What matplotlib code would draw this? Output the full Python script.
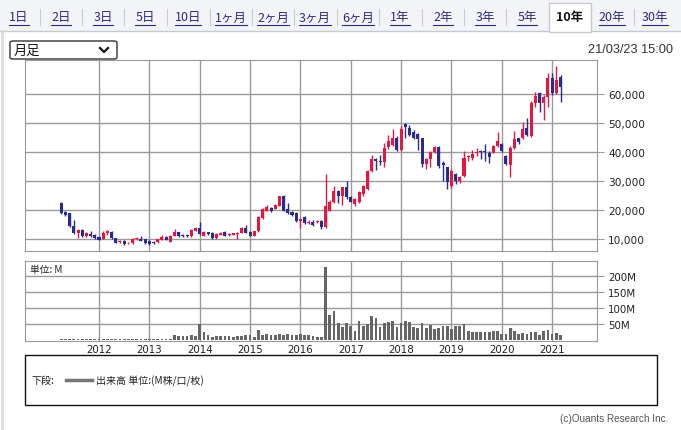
import numpy as np
import pandas as pd
import matplotlib
matplotlib.use('Agg')
import matplotlib.pyplot as plt
from matplotlib.lines import Line2D
from matplotlib.patches import Rectangle, FancyBboxPatch

plt.rcParams['font.family'] = ['Noto Sans CJK JP', 'DejaVu Sans']

# 月足データ (2011/04 - 2021/03)
months = pd.date_range('2011-04-01', periods=120, freq='MS')
opens = [22400, 19400, 18900, 14600, 12100, 13200, 10900, 11700, 11400, 10600,
         10000, 12100, 12300, 10300, 8900, 9300, 8500, 8500, 10000, 10000,
         9900, 9300, 9000, 8900, 9700, 10800, 9100, 11200, 12300, 11400,
         11300, 10900, 12800, 13700, 11200, 12300, 12100, 10300, 11500, 12300,
         11400, 11500, 11800, 12100, 13800, 12500, 11100, 12600, 17100, 19800,
         20700, 20500, 21500, 24900, 20300, 19400, 18900, 16300, 17500, 15500,
         16000, 15700, 16300, 14000, 19800, 22600, 26700, 25000, 27800, 24400,
         22100, 22900, 25500, 27200, 33600, 37600, 37000, 36400, 41600, 42500,
         45000, 40800, 49600, 48300, 46800, 46200, 44700, 35900, 37600, 39900,
         41600, 36200, 34700, 28400, 32400, 30100, 31700, 38200, 37900, 39600,
         40400, 40200, 39800, 39800, 42100, 42700, 38600, 35500, 41300, 44700,
         44700, 48200, 45500, 56800, 60300, 56800, 59000, 65400, 60400, 66000]
closes = [18900, 18300, 14600, 12000, 13000, 10900, 12100, 10900, 10200, 9800,
          12100, 12600, 10300, 8700, 9300, 8400, 8700, 9900, 10200, 9400,
          8600, 8300, 8600, 9900, 10600, 9800, 11200, 12300, 10900, 11000,
          11000, 13200, 13800, 11700, 12300, 11700, 10300, 11700, 12100, 11100,
          11700, 12000, 12100, 13700, 12100, 11100, 12600, 17600, 20300, 20900,
          19800, 21800, 24700, 19800, 19000, 18400, 16200, 16900, 15500, 16000,
          14800, 16300, 14000, 21500, 22600, 26700, 25000, 27800, 24400, 22900,
          23800, 26100, 28200, 33600, 37600, 37000, 36700, 41300, 43900, 44800,
          40800, 47900, 48500, 45900, 44800, 44500, 35900, 37600, 39900, 41600,
          35300, 35600, 29500, 33600, 30100, 31300, 38000, 38700, 39400, 40100,
          40000, 39900, 38400, 42100, 43800, 40400, 35900, 41300, 44400, 43300,
          47800, 45900, 56800, 59300, 56800, 59000, 65400, 60300, 64800, 62500]
highs = [22600, 19800, 19000, 16500, 13300, 13400, 12500, 12700, 11800, 10900,
         12600, 13100, 12600, 10500, 9700, 9600, 9000, 10200, 10600, 10900,
         10100, 9600, 9200, 10100, 11300, 11100, 11500, 13400, 12500, 11800,
         11600, 13500, 14100, 15700, 12700, 12500, 12300, 12000, 12400, 12800,
         11900, 12200, 12300, 14000, 15000, 12800, 12900, 17900, 20600, 21900,
         21000, 22100, 25000, 25200, 22500, 19800, 19200, 17200, 17800, 16400,
         16600, 16700, 16600, 32400, 23500, 28400, 27000, 28100, 30100, 25000,
         24100, 26400, 28500, 33900, 39000, 38000, 39000, 43000, 45800, 47900,
         45500, 49000, 49900, 49300, 47500, 46500, 45000, 38000, 40500, 42000,
         42000, 37000, 35000, 34000, 32800, 31600, 40200, 39100, 40800, 41300,
         40800, 42700, 40200, 42500, 46800, 43100, 39000, 42000, 47400, 45000,
         50300, 51900, 57500, 60700, 60800, 59800, 67400, 67400, 69700, 66500]
lows = [18700, 17900, 14300, 11600, 10400, 10600, 10700, 10700, 10000, 9600,
        9900, 11500, 10100, 8500, 8700, 8000, 8300, 8400, 9700, 9200,
        8400, 8000, 8300, 8700, 9500, 9500, 8900, 11000, 10700, 10800,
        10800, 10700, 12600, 11500, 11000, 11500, 10100, 10100, 11300, 11000,
        11200, 11300, 10000, 11900, 11900, 10900, 10900, 12400, 16900, 19600,
        19400, 20300, 21300, 19500, 18700, 18100, 15900, 13700, 15200, 15100,
        14500, 15400, 13300, 13700, 19500, 22300, 22300, 21900, 23700, 22600,
        21300, 22500, 24700, 26900, 33200, 33800, 35500, 35000, 41200, 42000,
        40300, 40500, 44800, 45500, 44500, 40800, 35000, 34000, 35000, 39500,
        34500, 30100, 27300, 27600, 29000, 29200, 31300, 36900, 37400, 38500,
        37500, 37000, 36300, 39600, 41800, 40000, 35500, 31500, 41000, 42600,
        44400, 45500, 45200, 55700, 53900, 51000, 55700, 59800, 59900, 57400]
# 出来高 (M)
volume = [2.0] * 27 + [
    15.6, 11.5, 11.5, 11.5, 15.6, 11.5, 49, 26, 15.6, 9.4,
    12.5, 12.5, 12.5, 12.5, 9.4, 12.5, 12.5, 15.6, 15.6, 9.4,
    31, 15.6, 19.8, 15.6, 15.6, 19.8, 15.6, 19.8, 15.6, 15.6,
    19.8, 15.6, 15.6, 12.5, 9.4, 9.4, 228, 78, 90.6, 53,
    40.6, 53, 43.8, 28, 59, 43.8, 51, 75, 67.7, 40.6,
    53, 56, 59, 40.6, 53, 59, 56, 40.6, 37.5, 53,
    37.5, 45.8, 34.4, 38.5, 43.8, 43.8, 34.4, 43.8, 43.8, 49,
    28, 25, 25, 25, 25, 25, 28, 28, 18.8, 18.8,
    37.5, 28, 19.8, 22.9, 19.8, 25, 25, 15.6, 28, 31,
    19.8, 21, 15.6]

price_ticks = [10000, 20000, 30000, 40000, 50000, 60000]
vol_ticks = [50, 100, 150, 200]
tabs = ['1日', '2日', '3日', '5日', '10日', '1ヶ月', '2ヶ月', '3ヶ月', '6ヶ月',
        '1年', '2年', '3年', '5年', '10年', '20年', '30年']
tab_x = [19, 61, 103, 145, 188, 231, 273, 315, 358, 400, 443, 485, 527, 570, 612, 655]

W, H = 681, 431
def fx(p): return p / W
def fy(p): return 1 - p / H

fig = plt.figure(figsize=(6.81, 4.31), dpi=100)
fig.patch.set_facecolor('white')

x = np.arange(len(months))
o = np.array(opens); c = np.array(closes)
up = c >= o
col = np.where(up, '#e5173f', '#2b2a8e')
grid_c = '#9a9a9a'
year_pos = x[months.month == 1]
year_lab = [str(d.year) for d in months[months.month == 1]]
xlim = (-8.64, 127.7)

# 上段: ローソク足
ax = fig.add_axes([fx(25), fy(252), fx(597) - fx(25), fy(61) - fy(252)])
ax.vlines(x, lows, highs, colors=col, lw=1)
ax.bar(x, np.maximum(np.abs(c - o), 250), bottom=np.minimum(o, c), width=0.72,
       color=col, linewidth=0)
ax.set_xlim(*xlim)
ax.set_ylim(5860, 71750)
ax.set_xticks(year_pos)
ax.set_xticklabels([])
ax.set_yticks(price_ticks)
ax.set_yticklabels([f'{v:,}' for v in price_ticks], family='DejaVu Sans', fontsize=7.6, color='#222222')
ax.yaxis.tick_right()
ax.tick_params(axis='y', length=5, color=grid_c, pad=3)
ax.tick_params(axis='x', length=0)
ax.grid(True, color=grid_c, lw=1)
ax.set_axisbelow(True)
for s in ax.spines.values():
    s.set_color(grid_c)

# 下段: 出来高
av = fig.add_axes([fx(25), fy(342), fx(597) - fx(25), fy(262) - fy(342)])
av.bar(x, volume, width=0.65, color='#666666', linewidth=0)
av.set_xlim(*xlim)
av.set_ylim(-3, 247)
av.set_yticks(vol_ticks)
av.set_yticklabels([f'{v}M' for v in vol_ticks], family='DejaVu Sans', fontsize=7.4, color='#222222')
av.yaxis.tick_right()
av.set_xticks(year_pos)
av.set_xticklabels(year_lab, family='DejaVu Sans', fontsize=7.4, color='#222222')
av.tick_params(axis='y', length=5, color=grid_c, pad=3)
av.tick_params(axis='x', length=0, pad=2)
av.grid(True, color=grid_c, lw=1)
av.set_axisbelow(True)
for s in av.spines.values():
    s.set_color(grid_c)
av.text(0.008, 0.9, '単位: M', transform=av.transAxes, fontsize=7, va='center', color='#222222')

# タブ
fig.patches.append(Rectangle((0, fy(32)), 1, 1 - fy(32), transform=fig.transFigure,
                             facecolor='#f3f4f8', edgecolor='none', zorder=0))
fig.lines.append(Line2D([0, 1], [fy(32), fy(32)], transform=fig.transFigure, color='#c8c8d0', lw=1))
fig.patches.append(Rectangle((fx(549), fy(32.5)), fx(42), fy(4) - fy(32.5), transform=fig.transFigure,
                             facecolor='white', edgecolor='#c8c8d0', lw=1, zorder=2))
tab_texts = []
for t, px in zip(tabs, tab_x):
    active = t == '10年'
    tt = fig.text(fx(px), fy(18), t, ha='center', va='center', fontsize=9,
                  color='#111111' if active else '#2a2a86',
                  fontweight='bold' if active else 'normal', zorder=3)
    if not active:
        tab_texts.append(tt)
for a, b in zip(tab_x[:-1], tab_x[1:]):
    if a == 570 or b == 570:
        continue
    mid = (a + b) / 2
    fig.lines.append(Line2D([fx(mid), fx(mid)], [fy(10), fy(26)], transform=fig.transFigure,
                            color='#cccccc', lw=0.8))
fig.canvas.draw()
r = fig.canvas.get_renderer()
for tt in tab_texts:
    bb = tt.get_window_extent(r)
    fig.lines.append(Line2D([bb.x0 / fig.bbox.width, bb.x1 / fig.bbox.width],
                            [fy(26), fy(26)], transform=fig.transFigure,
                            color='#2a2a86', lw=0.8))

# 足種セレクト
fig.patches.append(FancyBboxPatch((fx(10), fy(60)), fx(107) , fy(42) - fy(60),
                                  boxstyle='round,pad=0,rounding_size=0.004',
                                  transform=fig.transFigure, facecolor='white',
                                  edgecolor='#333333', lw=1))
fig.text(fx(14), fy(51), '月足', fontsize=9.5, va='center', color='#111111')
fig.lines.append(Line2D([fx(100), fx(104), fx(108)], [fy(49), fy(53), fy(49)],
                        transform=fig.transFigure, color='#111111', lw=1.6))
fig.text(fx(673), fy(50), '21/03/23 15:00', fontsize=9.2, ha='right', va='center',
         family=['Liberation Sans', 'DejaVu Sans'], color='#333333')

# 凡例
fig.patches.append(Rectangle((fx(25), fy(406)), fx(632), fy(356) - fy(406),
                             transform=fig.transFigure, facecolor='white',
                             edgecolor='#111111', lw=1))
fig.text(fx(32), fy(381), '下段:', fontsize=7.2, va='center', color='#222222')
fig.lines.append(Line2D([fx(66), fx(92)], [fy(381), fy(381)], transform=fig.transFigure,
                        color='#777777', lw=2.5))
fig.text(fx(96), fy(381), '出来高 単位:(M株/口/枚)', fontsize=7.2, va='center', color='#222222')
fig.text(fx(668), fy(419), '(c)Ouants Research Inc.', fontsize=7.2, ha='right', va='center',
         family=['Liberation Sans Narrow', 'Liberation Sans', 'DejaVu Sans'], color='#555555')

# 左端の枠
fig.lines.append(Line2D([fx(1.5), fx(1.5)], [fy(32), 0], transform=fig.transFigure,
                        color='#dddddd', lw=2))

fig.savefig('out.png', dpi=100)
